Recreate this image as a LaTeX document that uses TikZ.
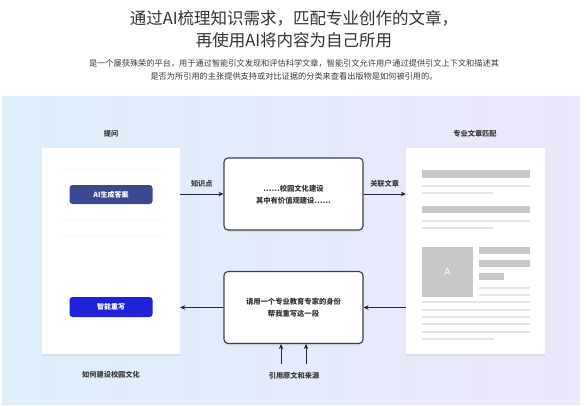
\documentclass[tikz,border=0pt]{standalone}
\usepackage{fontspec}
\setmainfont{Noto Sans CJK SC}
\usetikzlibrary{arrows.meta,shadows}
\definecolor{titlec}{HTML}{333333}
\definecolor{subc}{HTML}{3A3A3A}
\definecolor{bgL}{HTML}{DCEFFA}
\definecolor{bgR}{HTML}{ECE7FB}
\definecolor{navy}{HTML}{3B4A90}
\definecolor{brightblue}{HTML}{1F22D8}
\definecolor{barc}{HTML}{C8C8C8}
\definecolor{linec}{HTML}{E4E4E4}
\definecolor{boxborder}{HTML}{3A3F4A}
\definecolor{arrowc}{HTML}{22252C}
\tikzset{
  panel/.style={fill=white, draw=none, drop shadow={opacity=0.12, shadow xshift=0pt, shadow yshift=-2pt}},
  promptbox/.style={fill=white, draw=boxborder, line width=1.1pt, rounded corners=4pt, drop shadow={opacity=0.12, shadow xshift=0pt, shadow yshift=-2pt}},
  btn/.style={rounded corners=3pt, draw=none, text=white, font=\fontsize{7}{8}\selectfont\bfseries},
  lbl/.style={text=subc, font=\fontsize{7.2}{8}\selectfont\bfseries},
  boxtext/.style={text=titlec, font=\fontsize{7.3}{12}\selectfont\bfseries, align=center},
  conn/.style={draw=arrowc, line width=0.9pt, -{Stealth[length=5pt,width=4.5pt]}},
  bar/.style={fill=barc, draw=none},
  thin/.style={fill=linec, draw=none}
}
\begin{document}
\begin{tikzpicture}[x=1pt,y=-1pt]
\useasboundingbox (0,0) rectangle (588,406);
\fill[white] (0,0) rectangle (588,406);
% background band
\shade[left color=bgL, right color=bgR] (2,97) rectangle (580,404);
% title
\node[text=titlec, font=\fontsize{16.5}{22}\selectfont, align=center] (title) at (294,29) {通过AI梳理知识需求，匹配专业创作的文章，\\再使用AI将内容为自己所用};
\node[text=subc, font=\fontsize{8.2}{13}\selectfont, align=center] (sub) at (294,69.5) {是一个屡获殊荣的平台，用于通过智能引文发现和评估科学文章，智能引文允许用户通过提供引文上下文和描述其\\是否为所引用的主张提供支持或对比证据的分类来查看出版物是如何被引用的。};
% left panel
\node[panel, minimum width=138pt, minimum height=206pt, inner sep=0pt] (lp) at (111,251) {};
\node[lbl] (lpt) at (111,134) {提问};
\node[lbl] (lpb) at (111,375) {如何建设校园文化};
\fill[linec!35] (60,169) rectangle (163,170);
\fill[linec!35] (60,220) rectangle (163,221);
\fill[linec!35] (60,236) rectangle (163,237);
\node[btn, fill=navy, minimum width=83pt, minimum height=19pt] (b1) at (111,194.5) {AI生成答案};
\node[btn, fill=brightblue, minimum width=83pt, minimum height=20pt] (b2) at (111,307) {智能重写};
% right panel
\node[panel, minimum width=139pt, minimum height=206pt, inner sep=0pt] (rp) at (475.5,251) {};
\node[lbl] (rpt) at (475,134) {专业文章匹配};
\fill[bar] (422,170) rectangle (530,178);
\fill[thin] (422,185) rectangle (530,187);
\fill[thin] (422,192) rectangle (493,194);
\fill[bar] (422,206) rectangle (530,213);
\fill[thin] (422,220) rectangle (530,222);
\fill[thin] (422,227) rectangle (493,229);
\node[fill=barc, minimum width=51pt, minimum height=50pt, inner sep=0pt, text=white, font=\fontsize{10}{10}\selectfont] (img) at (447.5,272) {A};
\fill[bar] (479,247) rectangle (530,254);
\fill[bar] (479,260) rectangle (530,267);
\fill[bar] (479,273) rectangle (504,280);
\fill[thin] (479,287) rectangle (530,289);
\fill[thin] (479,294) rectangle (530,296);
\fill[thin] (422,301) rectangle (530,303);
\fill[thin] (422,309) rectangle (530,311);
\fill[thin] (422,316) rectangle (530,318);
\fill[thin] (422,323) rectangle (530,325);
\fill[thin] (422,331) rectangle (530,333);
\fill[thin] (422,338) rectangle (494,340);
% middle boxes
\node[promptbox, minimum width=139pt, minimum height=72pt, inner sep=0pt] (tb) at (293.5,194) {};
\node[boxtext] (tbt) at (293.5,195) {……校园文化建设\\其中有价值观建设……};
\node[promptbox, minimum width=139pt, minimum height=72pt, inner sep=0pt] (bb) at (293.5,307.5) {};
\node[boxtext] (bbt) at (293.5,308) {请用一个专业教育专家的身份\\帮我重写这一段};
% connectors
\draw[conn] (lp.east |- tb.west) -- (tb.west) node[pos=0.5, above=3pt, lbl] (l1) {知识点};
\draw[conn] (tb.east) -- (rp.west |- tb.east) node[pos=0.5, above=3pt, lbl] (l2) {关联文章};
\draw[conn] (rp.west |- bb.east) -- (bb.east);
\draw[conn] (bb.west) -- (lp.east |- bb.west);
\coordinate (u1) at (281,364);
\coordinate (u2) at (306,364);
\draw[conn] (u1) -- (u1 |- bb.south);
\draw[conn] (u2) -- (u2 |- bb.south);
\node[lbl] (bl) at (294,376) {引用原文和来源};
\end{tikzpicture}
\end{document}
